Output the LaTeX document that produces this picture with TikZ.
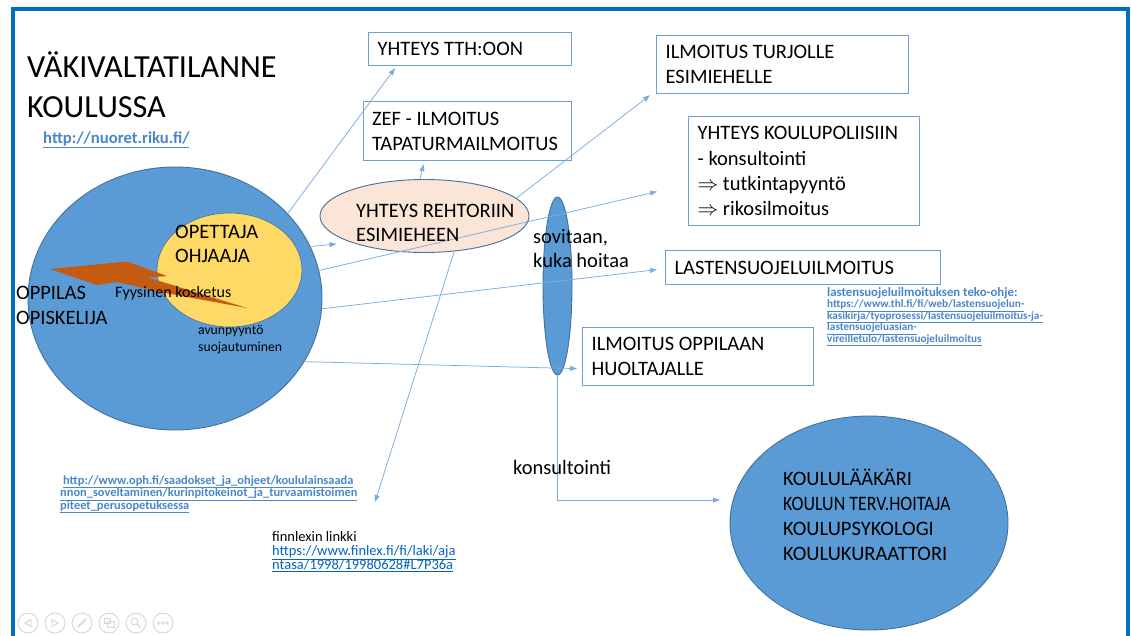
\documentclass[tikz,border=0pt]{standalone}
\usepackage{fontspec}
\usepackage{graphicx}
\setmainfont{Carlito}
\usetikzlibrary{shapes.geometric,arrows.meta,calc}
\definecolor{mainblue}{HTML}{5B9BD5}
\definecolor{darkborder}{HTML}{41719C}
\definecolor{yellowc}{HTML}{FFD966}
\definecolor{peach}{HTML}{FBE5D6}
\definecolor{boltc}{HTML}{C55A11}
\definecolor{lineblue}{HTML}{78AEE2}
\definecolor{boxblue}{HTML}{6C9FD6}
\definecolor{linkblue}{HTML}{4A86C8}
\definecolor{hlink}{HTML}{0563C1}
\definecolor{framecol}{HTML}{0070C0}
\definecolor{toolgray}{HTML}{D6D6D6}
\newcommand{\fsz}[2]{\fontsize{#1}{#2}\selectfont}
\begin{document}
\begin{tikzpicture}[x=1pt,y=-1pt,
  box/.style={rectangle, draw=boxblue, line width=1.2pt, fill=white, anchor=north west,
    inner xsep=9pt, inner ysep=0pt, align=flush left, font=\fsz{20.5}{25.3}},
  txt/.style={anchor=base west, inner sep=0pt},
  big/.style={txt, font=\fsz{20.5}{25}},
  blob/.style={ellipse, draw=darkborder, line width=0.9pt, fill=mainblue, inner sep=0pt},
  conn/.style={draw=lineblue, line width=0.75pt, -{Triangle[length=7pt,width=5pt]}},
  boldlink/.style={txt, text=linkblue, font=\bfseries\fsz{11.2}{12}},
  tool/.style={draw=toolgray, line width=0.9pt}
]
\useasboundingbox (0,0) rectangle (1131,635);
\fill[white] (0,0) rectangle (1131,635);

% frame
\draw[framecol, line width=4pt] (12.5,645) -- (12.5,9) -- (1127.5,9) -- (1127.5,645);

% big shapes
\node[blob, minimum width=294pt, minimum height=263pt] (oppilas) at (175,298.5) {};
\node[ellipse, draw=darkborder, line width=0.6pt, fill=yellowc, inner sep=0pt,
      minimum width=145pt, minimum height=114pt] (opettaja) at (229.5,270) {};
\fill[boltc] (50,269) -- (127,261.5) -- (167,276) -- (148,277.5) -- (247,308)
   -- (160,292) -- (117,282) -- (97,285) -- cycle;
\node[ellipse, draw=darkborder, line width=0.9pt, fill=peach, inner sep=0pt,
      minimum width=209pt, minimum height=73pt] (rehtori) at (424.5,216) {};
\node[blob, minimum width=29pt, minimum height=178pt] (sovitaan) at (557.5,286) {};
\node[blob, minimum width=278pt, minimum height=214pt] (koulu) at (869,523) {};

% boxes
\node[box, minimum width=203pt, minimum height=33pt, text width=185pt] (tth) at (368,32) {YHTEYS TTH:OON};
\node[box, minimum width=208pt, minimum height=59pt, text width=191pt, inner xsep=8.5pt] (zef) at (363,101) {ZEF - ILMOITUS\\TAPATURMAILMOITUS};
\node[box, minimum width=252pt, minimum height=58pt, text width=234pt] (turjo) at (656,35) {ILMOITUS TURJOLLE\\ESIMIEHELLE};
\node[box, minimum width=231pt, minimum height=109pt, text width=213pt] (poliisi) at (688,116) {YHTEYS KOULUPOLIISIIN\\- konsultointi\\$\Rightarrow$ tutkintapyyntö\\$\Rightarrow$ rikosilmoitus};
\node[box, minimum width=275pt, minimum height=34pt, text width=257pt] (lasten) at (665,250) {LASTENSUOJELUILMOITUS};
\node[box, minimum width=231pt, minimum height=58pt, text width=213pt] (huoltaja) at (582,327) {ILMOITUS OPPILAAN\\HUOLTAJALLE};

% free connector ends
\coordinate (finarrow) at (375,502);
\coordinate (kons) at (720,500);

% connectors
\draw[conn] (oppilas.37) -- ($(tth.south west)+(27,2)$);
\draw[conn] (oppilas.21) -- ($(rehtori.west)+(17,28)$);
\draw[conn] (oppilas.11) -- ($(poliisi.west)+(-31,20.5)$);
\draw[conn] (oppilas.-4) -- ($(lasten.west)+(-8,2)$);
\draw[conn] (oppilas.-26) -- ($(huoltaja.west)+(-5,12)$);
\draw[conn] (rehtori.97) -- ($(zef.south)+(-44,3)$);
\draw[conn] (rehtori.11) -- ($(turjo.south west)+(-6,1)$);
\draw[conn] (rehtori.-50) -- (finarrow);
\draw[conn] (sovitaan.south) |- (kons);

% texts
\node[txt, font=\fsz{32.2}{38}] (title1) at (27,77.5) {VÄKIVALTATILANNE};
\node[txt, font=\fsz{32.2}{38}] (title2) at (27,117) {KOULUSSA};
\node[txt, text=linkblue, font=\bfseries\fsz{16.7}{20}] (nuoret) at (43,143) {\underline{http://nuoret.riku.fi/}};

\node[big] (opet1) at (175,238) {OPETTAJA};
\node[big] (opet2) at (175,262) {OHJAAJA};
\node[big] (opp1) at (16,299) {OPPILAS};
\node[big] (opp2) at (16,324) {OPISKELIJA};
\node[txt, font=\fsz{16}{19}] (fyys) at (115,297) {Fyysinen kosketus};
\node[txt, font=\fsz{13.7}{16}] (avun) at (198,334) {avunpyyntö};
\node[txt, font=\fsz{13.7}{16}] (suoj) at (198,351) {suojautuminen};

\node[big] (reh1) at (356,217) {YHTEYS REHTORIIN};
\node[big] (reh2) at (356,241.5) {ESIMIEHEEN};
\node[big] (sov1) at (533,243) {sovitaan,};
\node[big] (sov2) at (533,267) {kuka hoitaa};
\node[big] (konsult) at (513,474) {konsultointi};

\node[big] (k1) at (783,485) {KOULULÄÄKÄRI};
\node[big] (k2) at (783,510) {\scalebox{0.875}[1]{KOULUN TERV.HOITAJA}};
\node[big] (k3) at (783,535) {KOULUPSYKOLOGI};
\node[big] (k4) at (783,560) {KOULUKURAATTORI};

\node[boldlink, font=\bfseries\fsz{12.8}{12}] (ls1) at (827,296) {lastensuojeluilmoituksen teko-ohje:};
\node[boldlink] (ls2) at (827,307.5) {\underline{https://www.thl.fi/fi/web/lastensuojelun-}};
\node[boldlink] (ls3) at (827,319) {\underline{kasikirja/tyoprosessi/lastensuojeluilmoitus-ja-}};
\node[boldlink] (ls4) at (827,330.5) {\underline{lastensuojeluasian-}};
\node[boldlink] (ls5) at (827,342) {\underline{vireilletulo/lastensuojeluilmoitus}};

\node[boldlink, font=\bfseries\fsz{12.4}{12.5}] (oph1) at (63,484) {\underline{http://www.oph.fi/saadokset\_ja\_ohjeet/koululainsaada}};
\node[boldlink, font=\bfseries\fsz{12.4}{12.5}] (oph2) at (60,496.5) {\underline{nnon\_soveltaminen/kurinpitokeinot\_ja\_turvaamistoimen}};
\node[boldlink, font=\bfseries\fsz{12.4}{12.5}] (oph3) at (60,509) {\underline{piteet\_perusopetuksessa}};

\node[txt, font=\fsz{14.5}{14}] (fin1) at (272,541) {finnlexin linkki};
\node[txt, text=hlink, font=\fsz{14.5}{14}] (fin2) at (272,555) {\underline{https://www.finlex.fi/fi/laki/aja}};
\node[txt, text=hlink, font=\fsz{14.5}{14}] (fin3) at (272,569) {\underline{ntasa/1998/19980628\#L7P36a}};

% slideshow toolbar
\foreach \cx in {28,55,82,109,136,163} \draw[tool] (\cx,623) circle[radius=10pt];
\draw[tool] (25,623) -- (31,619.5) -- (31,626.5) -- cycle;
\draw[tool] (58,623) -- (52,619.5) -- (52,626.5) -- cycle;
\draw[tool, line width=1.6pt] (78,627) -- (86,619);
\draw[tool] (104,618) rectangle (110,623);
\draw[tool] (107,621) rectangle (114,627);
\draw[tool] (134.5,621.5) circle[radius=3.5pt];
\draw[tool, line width=1.3pt] (137,624) -- (140.5,627.5);
\foreach \dx in {-4,0,4} \draw[tool, line width=0.7pt] (163+\dx,623) circle[radius=1.4pt];
\end{tikzpicture}
\end{document}
